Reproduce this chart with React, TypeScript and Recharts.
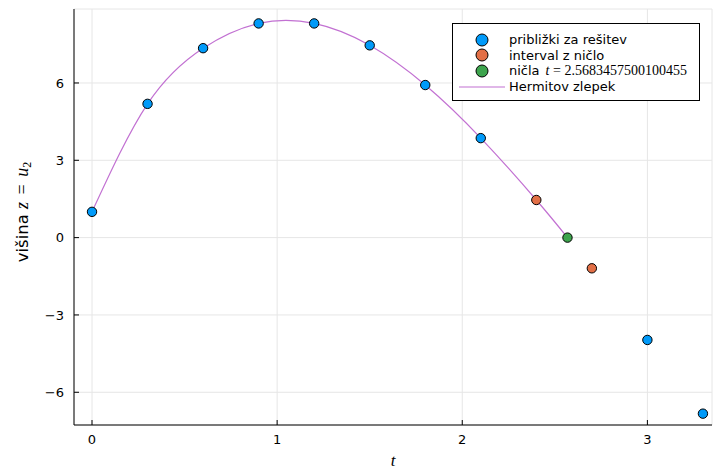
import React from "react";
import {
  ComposedChart,
  Scatter,
  Line,
  XAxis,
  YAxis,
  CartesianGrid,
  Legend,
} from "recharts";

// numerical solution points (t, z)
const tApprox = [0, 0.3, 0.6, 0.9, 1.2, 1.5, 1.8, 2.1, 3.0, 3.3];
const zApprox = [1.0, 5.19, 7.35, 8.31, 8.31, 7.46, 5.92, 3.86, -3.97, -6.83];

// the step where the sign changes
const tInterval = [2.4, 2.7];
const zInterval = [1.46, -1.19];

// the root
const tRoot = [2.5683457500100455];
const zRoot = [0];

// Hermite spline nodes
const tSpline = [0, 0.3, 0.6, 0.9, 1.2, 1.5, 1.8, 2.1, 2.4, 2.5683457500100455];
const zSpline = [1.0, 5.19, 7.35, 8.31, 8.31, 7.46, 5.92, 3.86, 1.46, 0];

const xTicks = [0, 1, 2, 3];
const yTicks = [-6, -3, 0, 3, 6];

const BLUE = "#009af9";
const ORANGE = "#e26f46";
const GREEN = "#3da44d";
const PURPLE = "#c271d2";

const zip = (ts: number[], zs: number[]) => ts.map((t, i) => ({ t, z: zs[i] }));

const approxData = zip(tApprox, zApprox);
const intervalData = zip(tInterval, zInterval);
const rootData = zip(tRoot, zRoot);
const splineData = zip(tSpline, zSpline);

const fmt = (v: number) => (v < 0 ? "\u2212" + Math.abs(v) : String(v));

const dot = (color: string) => (props: any) =>
  <circle cx={props.cx} cy={props.cy} r={4.7} fill={color} stroke="#000" strokeWidth={1} />;

const tickStyle = { fontSize: 13, fill: "#000", fontFamily: "DejaVu Sans" };

const YLabel = (props: any) => {
  const { viewBox } = props;
  const cx = viewBox.x + 28;
  const cy = viewBox.y + viewBox.height / 2 - 5;
  return (
    <text transform={`translate(${cx},${cy}) rotate(-90)`} textAnchor="middle" fill="#000">
      <tspan fontFamily="DejaVu Sans" fontSize={16.5}>višina </tspan>
      <tspan fontFamily="Liberation Serif" fontStyle="italic" fontSize={18}>z</tspan>
      <tspan fontFamily="Liberation Serif" fontSize={18} dx={3}> = </tspan>
      <tspan fontFamily="Liberation Serif" fontStyle="italic" fontSize={18} dx={3}>u</tspan>
      <tspan fontFamily="Liberation Serif" fontSize={12} dy={3}>2</tspan>
    </text>
  );
};

const XLabel = (props: any) => {
  const { viewBox } = props;
  return (
    <text x={viewBox.x + viewBox.width / 2} y={viewBox.y + 41} textAnchor="middle"
      fontFamily="Liberation Serif" fontStyle="italic" fontSize={17} fill="#000">
      t
    </text>
  );
};

const legendItems = [
  { name: "približki za rešitev", color: BLUE, kind: "dot" },
  { name: "interval z ničlo", color: ORANGE, kind: "dot" },
  { name: "ničla", color: GREEN, kind: "dot", math: "2.5683457500100455" },
  { name: "Hermitov zlepek", color: PURPLE, kind: "line" },
];

const renderLegend = () => (
  <div
    style={{
      width: 248,
      height: 78,
      boxSizing: "border-box",
      border: "1px solid #000",
      background: "#fff",
      paddingTop: 8,
      fontFamily: "DejaVu Sans",
      fontSize: 13,
      color: "#000",
    }}
  >
    {legendItems.map((it) => (
      <div key={it.name} style={{ display: "flex", alignItems: "center", height: 15.6 }}>
        <svg width={56} height={14} style={{ flex: "none", overflow: "visible" }}>
          {it.kind === "dot" ? (
            <circle cx={29} cy={7} r={6} fill={it.color} stroke="#000" strokeWidth={1} />
          ) : (
            <line x1={6} x2={52} y1={7} y2={7} stroke={it.color} strokeWidth={1.2} />
          )}
        </svg>
        <span style={{ whiteSpace: "nowrap", lineHeight: "15px" }}>
          {it.name}
          {it.math && (
            <span style={{ fontFamily: "Liberation Serif", fontSize: 14, marginLeft: 6 }}>
              <i>t</i> = {it.math}
            </span>
          )}
        </span>
      </div>
    ))}
  </div>
);

const App = () => {
  return (
    <div style={{ position: "absolute", left: 0, top: 0, width: 713, height: 471, background: "#fff" }}>
      <ComposedChart width={713} height={471} margin={{ top: 9, right: 1, bottom: 0, left: 0 }}>
        <CartesianGrid stroke="#e6e6e6" strokeWidth={1} />
        <XAxis
          type="number"
          dataKey="t"
          domain={[-0.0973, 3.349]}
          ticks={xTicks}
          allowDataOverflow
          height={46}
          tick={tickStyle}
          tickSize={-5}
          tickMargin={15}
          axisLine={{ stroke: "#000", strokeWidth: 1 }}
          tickLine={{ stroke: "#000" }}
          label={<XLabel />}
        />
        <YAxis
          type="number"
          dataKey="z"
          domain={[-7.27, 8.87]}
          ticks={yTicks}
          allowDataOverflow
          width={74}
          tick={tickStyle}
          tickFormatter={fmt}
          tickSize={-5}
          tickMargin={15}
          axisLine={{ stroke: "#000", strokeWidth: 1 }}
          tickLine={{ stroke: "#000" }}
          label={<YLabel />}
        />
        <Legend
          layout="vertical"
          align="center"
          verticalAlign="middle"
          content={renderLegend}
          wrapperStyle={{ position: "absolute", left: 452, top: 23, width: 248 }}
        />
        <Scatter name="približki za rešitev" data={approxData} dataKey="z" shape={dot(BLUE)} isAnimationActive={false} />
        <Scatter name="interval z ničlo" data={intervalData} dataKey="z" shape={dot(ORANGE)} isAnimationActive={false} />
        <Scatter name="ničla" data={rootData} dataKey="z" shape={dot(GREEN)} isAnimationActive={false} />
        <Line
          name="Hermitov zlepek"
          data={splineData}
          dataKey="z"
          type="natural"
          stroke={PURPLE}
          strokeWidth={1.2}
          dot={false}
          activeDot={false}
          isAnimationActive={false}
        />
      </ComposedChart>
    </div>
  );
};

export default App;
